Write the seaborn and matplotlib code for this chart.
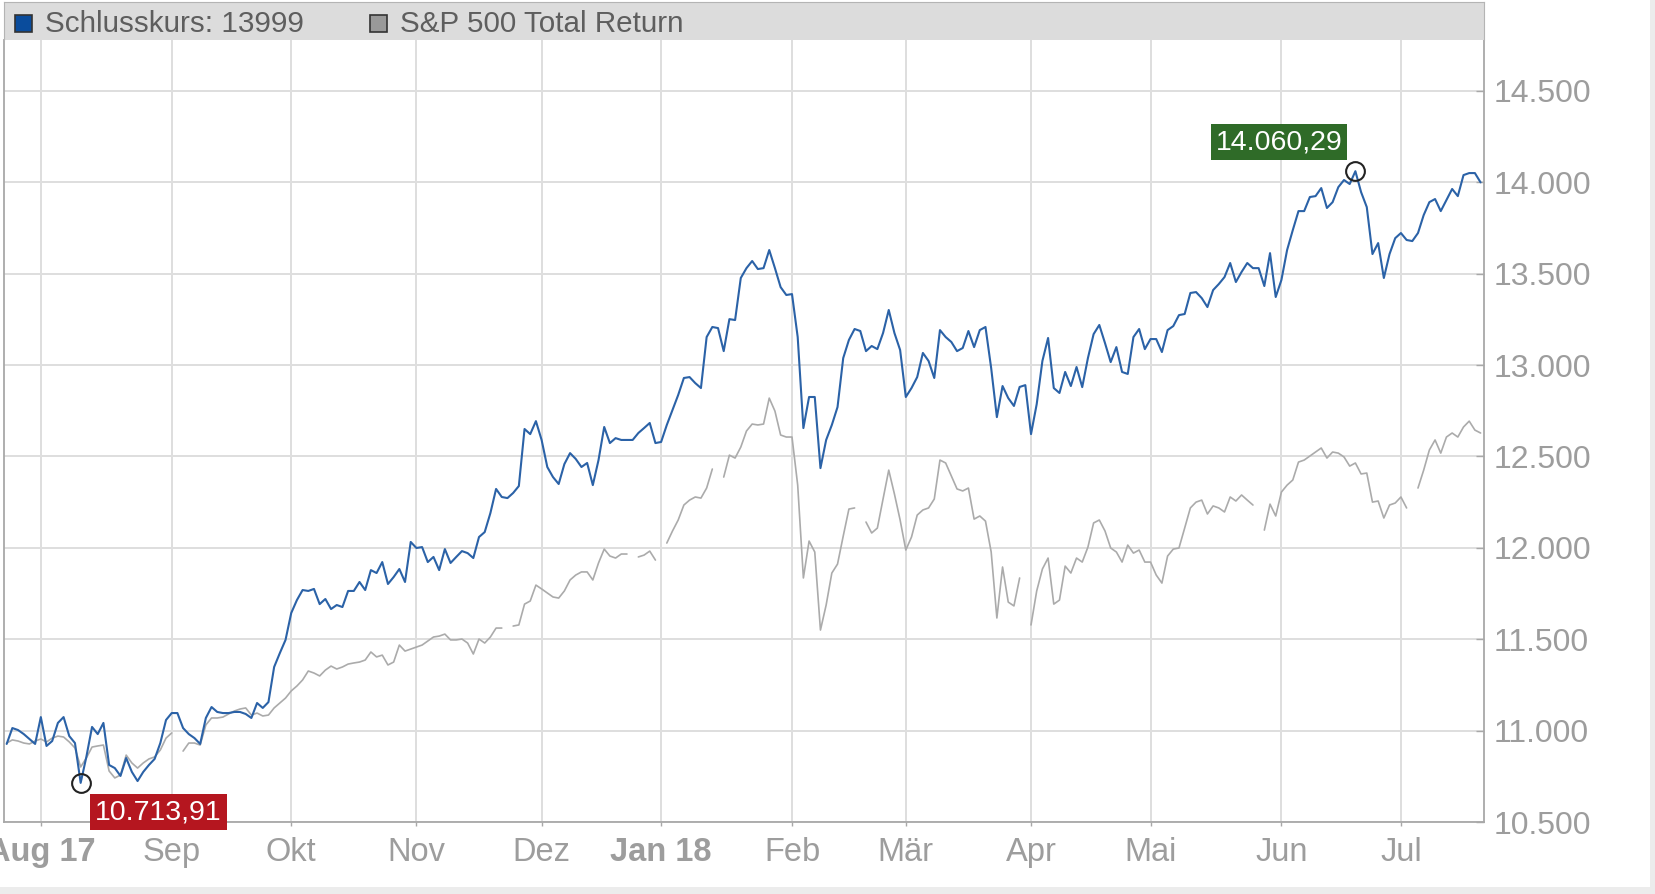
import numpy as np
import pandas as pd
import matplotlib.pyplot as plt
import seaborn as sns

nan = np.nan

# Handelstage Mo-Fr, 24.07.2017 - 20.07.2018
dates = pd.bdate_range("2017-07-24", "2018-07-20")

schlusskurs = [
    10927, 11014, 11003, 10981, 10954, 10927, 11074, 10916, 10943, 11042,
    11074, 10970, 10932, 10713.91, 10856, 11020, 10981, 11042, 10812, 10795,
    10752, 10850, 10774, 10724, 10774, 10812, 10845, 10932, 11058, 11096,
    11096, 11014, 10981, 10959, 10927, 11069, 11129, 11102, 11096, 11096,
    11102, 11102, 11091, 11069, 11151, 11124, 11156, 11348, 11424, 11496,
    11643, 11714, 11769, 11764, 11775, 11692, 11720, 11665, 11687, 11676,
    11764, 11764, 11813, 11769, 11878, 11862, 11922, 11802, 11840, 11884,
    11813, 12032, 11999, 12004, 11922, 11950, 11878, 11993, 11917, 11950,
    11982, 11971, 11944, 12059, 12086, 12190, 12322, 12278, 12272, 12300,
    12338, 12650, 12622, 12693, 12590, 12442, 12387, 12349, 12458, 12518,
    12486, 12442, 12464, 12343, 12480, 12661, 12573, 12600, 12590, 12590,
    12590, 12628, 12655, 12683, 12573, 12579, 12672, 12754, 12836, 12929,
    12934, 12901, 12874, 13153, 13208, 13202, 13076, 13251, 13246, 13476,
    13530, 13569, 13525, 13530, 13629, 13530, 13426, 13383, 13388, 13153,
    12655, 12825, 12825, 12436, 12590, 12672, 12770, 13038, 13137, 13197,
    13186, 13076, 13104, 13087, 13175, 13301, 13175, 13082, 12825, 12874,
    12934, 13066, 13022, 12929, 13191, 13153, 13126, 13076, 13093, 13186,
    13098, 13191, 13208, 12983, 12715, 12885, 12819, 12776, 12880, 12890,
    12622, 12786, 13022, 13148, 12874, 12847, 12962, 12885, 12989, 12879,
    13038, 13169, 13219, 13120, 13016, 13098, 12962, 12951, 13153, 13197,
    13087, 13142, 13142, 13071, 13191, 13213, 13273, 13279, 13394, 13399,
    13366, 13317, 13410, 13443, 13481, 13558, 13454, 13509, 13558, 13530,
    13530, 13432, 13612, 13372, 13465, 13629, 13738, 13842, 13842, 13919,
    13924, 13968, 13859, 13891, 13973, 14012, 13990, 14060.29, 13946, 13864,
    13607, 13667, 13476, 13607, 13694, 13722, 13684, 13678, 13722, 13820,
    13891, 13908, 13842, 13902, 13963, 13924, 14039, 14050, 14050, 13999,
]

# S&P 500 Total Return (nan = US-Feiertag)
sp500_tr = [
    10932, 10949, 10943, 10932, 10927, 10943, 10954, 10938, 10959, 10970,
    10965, 10938, 10905, 10801, 10850, 10910, 10916, 10921, 10779, 10741,
    10757, 10866, 10823, 10795, 10823, 10845, 10856, 10894, 10959, 10987,
    nan, 10888, 10932, 10932, 10921, 11031, 11069, 11069, 11074, 11091,
    11107, 11118, 11124, 11085, 11096, 11080, 11085, 11124, 11151, 11178,
    11217, 11244, 11277, 11326, 11315, 11299, 11331, 11353, 11337, 11348,
    11364, 11370, 11375, 11386, 11430, 11403, 11413, 11359, 11375, 11468,
    11435, 11446, 11457, 11468, 11490, 11512, 11517, 11528, 11496, 11496,
    11501, 11479, 11419, 11501, 11479, 11512, 11561, 11561, nan, 11572,
    11578, 11692, 11709, 11796, 11775, 11753, 11731, 11725, 11764, 11824,
    11851, 11868, 11868, 11824, 11917, 11993, 11955, 11944, 11966, 11966,
    nan, 11950, 11960, 11982, 11933, nan, 12026, 12092, 12152, 12234,
    12261, 12278, 12272, 12327, 12431, nan, 12387, 12507, 12491, 12551,
    12639, 12677, 12672, 12677, 12819, 12748, 12617, 12606, 12606, 12343,
    11835, 12037, 11977, 11550, 11687, 11862, 11911, 12064, 12212, 12218,
    nan, 12141, 12081, 12108, 12267, 12425, 12294, 12152, 11988, 12059,
    12179, 12207, 12218, 12267, 12480, 12464, 12393, 12322, 12311, 12327,
    12157, 12174, 12146, 11977, 11616, 11895, 11703, 11682, 11835, nan,
    11578, 11764, 11884, 11944, 11692, 11714, 11900, 11862, 11944, 11922,
    12004, 12136, 12152, 12092, 11999, 11977, 11922, 12015, 11971, 11988,
    11922, 11922, 11851, 11807, 11955, 11993, 11999, 12108, 12218, 12250,
    12261, 12185, 12229, 12218, 12196, 12278, 12256, 12289, 12261, 12234,
    nan, 12097, 12239, 12174, 12305, 12343, 12371, 12469, 12480, 12502,
    12524, 12546, 12491, 12524, 12518, 12497, 12447, 12464, 12404, 12409,
    12250, 12256, 12163, 12234, 12245, 12278, 12218, nan, 12327, 12425,
    12535, 12590, 12518, 12606, 12628, 12606, 12661, 12693, 12644, 12628,
]

month_labels = ["Aug 17", "Sep", "Okt", "Nov", "Dez", "Jan 18",
                "Feb", "Mär", "Apr", "Mai", "Jun", "Jul"]
bold_labels = ["Aug 17", "Jan 18"]
y_ticks = [10500, 11000, 11500, 12000, 12500, 13000, 13500, 14000, 14500]


def de(v, dec=0):
    s = f"{v:,.{dec}f}"
    return s.replace(",", "X").replace(".", ",").replace("X", ".")


BLUE = "#2b62a7"
GREY = "#ababab"
TXT = "#9d9d9d"

sns.set_style("white")
plt.rcParams["font.family"] = ["Liberation Sans", "DejaVu Sans"]

W, H = 1655, 894
fig = plt.figure(figsize=(W / 100, H / 100), dpi=100)
ax = fig.add_axes([4 / W, 72 / H, 1480 / W, 782 / H])

# x = Handelstag-Nummer (gleichmaessige Abstaende wie im Original)
df = pd.DataFrame({"date": dates, "kurs": schlusskurs, "sp": sp500_tr})
df["tag"] = np.arange(len(df))
df["seg"] = df["sp"].isna().cumsum()

sns.lineplot(data=df.dropna(subset=["sp"]), x="tag", y="sp", units="seg",
             estimator=None, color=GREY, linewidth=1.2, legend=False, ax=ax)
sns.lineplot(data=df, x="tag", y="kurs", color=BLUE, linewidth=1.5,
             legend=False, ax=ax)

ax.set_xlim(-0.47, len(df) - 0.4)
ax.set_ylim(10500, 14778)
ax.set_xlabel("")
ax.set_ylabel("")

# Monatsanfaenge = erster Handelstag im Monat
month_start = df.groupby(df["date"].dt.to_period("M"))["tag"].min().values[1:]
ax.set_xticks(month_start)
ax.set_xticklabels(month_labels)
for lab in ax.get_xticklabels():
    if lab.get_text() in bold_labels:
        lab.set_fontweight("bold")
ax.yaxis.tick_right()
ax.set_yticks(y_ticks)
ax.set_yticklabels([de(v) for v in y_ticks])

ax.tick_params(axis="x", direction="out", length=3, width=1, color="#a8a8a8",
               labelsize=23.5, labelcolor=TXT, pad=8, bottom=True)
ax.tick_params(axis="y", direction="in", length=6, width=1, color="#a8a8a8",
               labelsize=23, labelcolor=TXT, pad=7, right=True, left=False)

ax.grid(True, color="#dedede", linewidth=1.4)
ax.set_axisbelow(True)
for side in ["left", "bottom", "right"]:
    ax.spines[side].set_color("#a8a8a8")
    ax.spines[side].set_linewidth(1.3)
    ax.spines[side].set_visible(True)
ax.spines["top"].set_visible(False)

# Tief / Hoch
kurs = df["kurs"]
i_min, i_max = kurs.idxmin(), kurs.idxmax()
for i, col, off in [(i_min, "#b5161f", (56, -21)), (i_max, "#2f6b28", (-55, 21))]:
    ax.plot(df["tag"][i], kurs[i], marker="o", ms=13.5, mfc="none",
            mec="#222222", mew=1.5, zorder=5)
    ax.annotate(de(kurs[i], 2), xy=(df["tag"][i], kurs[i]), xytext=off,
                textcoords="offset points", ha="center", va="center",
                color="white", fontsize=20.5, zorder=6,
                bbox=dict(boxstyle="square,pad=0.17", fc=col, ec="none"))

# Legendenleiste
bar = fig.add_axes([4 / W, 1 - 40 / H, 1480 / W, 38 / H])
bar.set_xlim(4, 1484)
bar.set_ylim(40, 2)
bar.set_facecolor("#dcdcdc")
bar.set_xticks([])
bar.set_yticks([])
for side in ["left", "top", "right"]:
    bar.spines[side].set_color("#b4b4b4")
bar.spines["bottom"].set_visible(False)
items = [(15, "#0a4c9c", f"Schlusskurs: {schlusskurs[-1]:.0f}"),
         (370, "#999999", "S&P 500 Total Return")]
for x0, col, txt in items:
    bar.add_patch(plt.Rectangle((x0, 15), 17, 17, fc=col, ec="#333333", lw=1.2))
    bar.text(x0 + 30, 24, txt, ha="left", va="center", fontsize=21.3,
             color="#5e5e5e")

# heller Rahmen rechts / unten
fig.patches.append(plt.Rectangle((1650 / W, 0), 5 / W, 1, transform=fig.transFigure,
                                 fc="#ececec", ec="none"))
fig.patches.append(plt.Rectangle((0, 0), 1, 7 / H, transform=fig.transFigure,
                                 fc="#ececec", ec="none"))

fig.savefig("out.png", dpi=100)
